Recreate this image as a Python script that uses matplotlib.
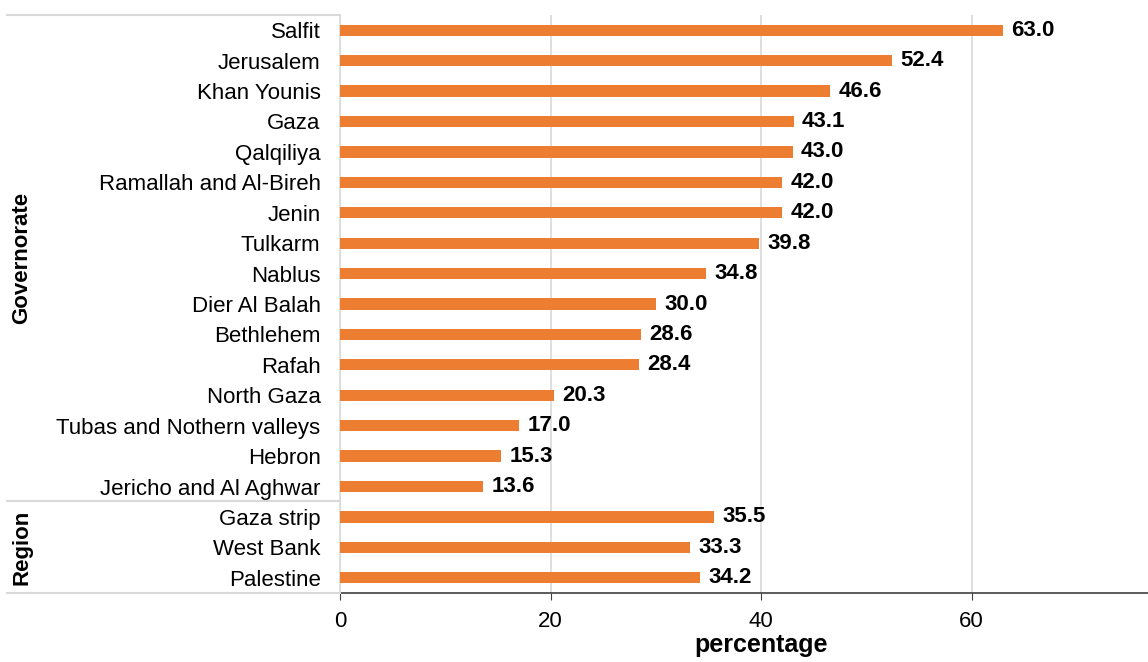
import matplotlib.pyplot as plt
from matplotlib.lines import Line2D

plt.rcParams['font.family'] = ['Liberation Sans', 'DejaVu Sans']

# top to bottom
labels = ["Salfit", "Jerusalem", "Khan Younis", "Gaza", "Qalqiliya",
          "Ramallah and Al-Bireh", "Jenin", "Tulkarm", "Nablus", "Dier Al Balah",
          "Bethlehem", "Rafah", "North Gaza", "Tubas and Nothern valleys",
          "Hebron", "Jericho and Al Aghwar", "Gaza strip", "West Bank", "Palestine"]
values = [63.0, 52.4, 46.6, 43.1, 43.0, 42.0, 42.0, 39.8, 34.8, 30.0,
          28.6, 28.4, 20.3, 17.0, 15.3, 13.6, 35.5, 33.3, 34.2]
groups = ["Governorate", "Region"]
group_sizes = [16, 3]

W, H = 1148, 662
fig = plt.figure(figsize=(W / 100, H / 100), dpi=100)
ax_left, ax_right, ax_top, ax_bot = 340, 1182, 15, 593
ax = fig.add_axes([ax_left / W, 1 - ax_bot / H, (ax_right - ax_left) / W, (ax_bot - ax_top) / H])

n = len(labels)
ypos = list(range(n - 1, -1, -1))
bars = ax.barh(ypos, values, height=0.37, color="#ED7D31", zorder=3)
for y, v in zip(ypos, values):
    ax.annotate(f"{v:.1f}", (v, y), xytext=(6, 0), textcoords="offset points",
                va="center", ha="left", fontsize=16, fontweight="bold")

ax.set_ylim(-0.5, n - 0.5)
ax.set_xlim(0, 80)
ax.set_xticks([0, 20, 40, 60])
ax.set_xticklabels(["0", "20", "40", "60"])
ax.set_yticks(ypos)
ax.set_yticklabels(labels)
ax.tick_params(axis="y", length=0, pad=14, labelsize=16)
ax.tick_params(axis="x", length=5, color="#404040", labelsize=16, pad=8)
ax.grid(axis="x", color="#d9d9d9", linewidth=1.2, zorder=0)

for s in ["top", "right"]:
    ax.spines[s].set_visible(False)
ax.spines["left"].set_color("#d9d9d9")
ax.spines["left"].set_linewidth(1.2)
ax.spines["bottom"].set_color("#404040")
ax.spines["bottom"].set_linewidth(1.2)

ax.set_xlabel("percentage", fontsize=18, fontweight="bold", labelpad=1)

# group separators on the left
x0 = 7 / W
xa = ax_left / W
sep_y = [ax_top, 501, ax_bot]
for yy in sep_y:
    fy = 1 - yy / H
    fig.add_artist(Line2D([x0, xa], [fy, fy], color="#d9d9d9", linewidth=1.5))

# group titles
start = 0
for g, size in zip(groups, group_sizes):
    top_y = n - 1 - start + 0.5
    bot_y = n - 1 - (start + size - 1) - 0.5
    ax.text(-0.378, (top_y + bot_y) / 2, g, transform=ax.get_yaxis_transform(),
            rotation=90, ha="center", va="center", fontsize=16, fontweight="bold")
    start += size

fig.savefig("out.png", dpi=100)
